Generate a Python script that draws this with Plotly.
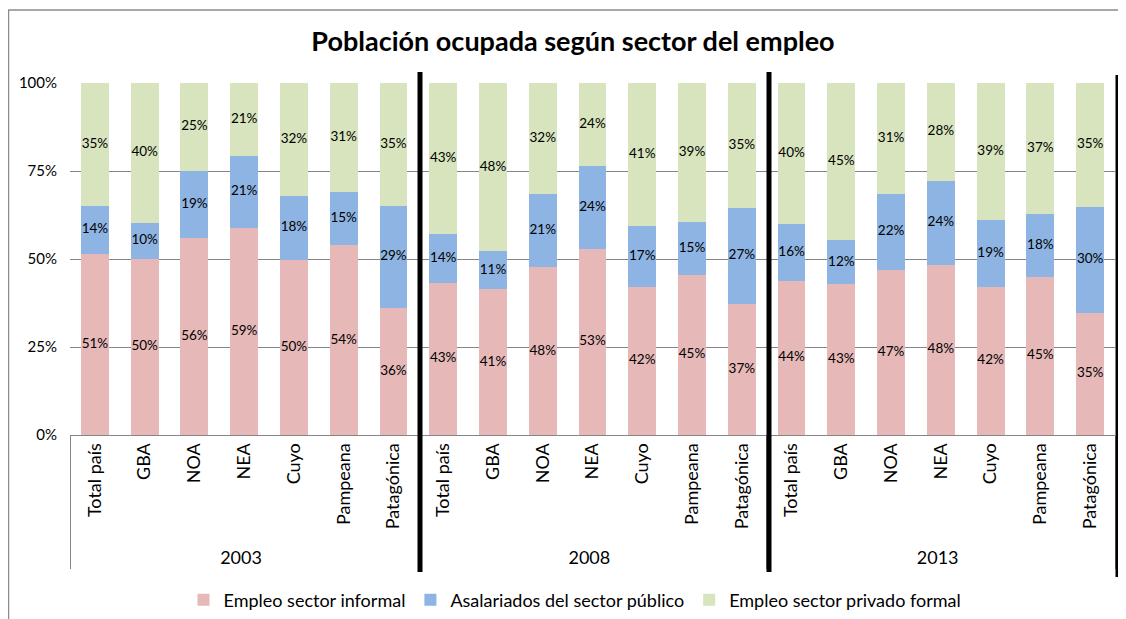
import plotly.graph_objects as go
import numpy as np

# datos (porcentajes)
years = ["2003", "2008", "2013"]
regions = ["Total país", "GBA", "NOA", "NEA", "Cuyo", "Pampeana", "Patagónica"]

informal = [51.4, 50.0, 56.0, 58.8, 49.8, 53.9, 36.0,
            43.2, 41.4, 47.6, 52.8, 42.0, 45.4, 37.2,
            43.8, 42.9, 46.8, 48.3, 42.0, 44.9, 34.7]
publico = [13.7, 10.3, 19.0, 20.6, 18.1, 15.0, 29.2,
           13.9, 10.8, 20.8, 23.6, 17.4, 15.2, 27.4,
           16.1, 12.4, 21.8, 23.9, 19.0, 17.9, 30.1]
privado = [34.9, 39.7, 25.0, 20.6, 32.1, 31.1, 34.8,
           42.9, 47.8, 31.6, 23.6, 40.6, 39.4, 35.4,
           40.1, 44.7, 31.4, 27.8, 39.0, 37.2, 35.2]

y_ticks = [0, 25, 50, 75, 100]
y_labels = ["0%", "25%", "50%", "75%", "100%"]

series_names = ["Empleo sector informal", "Asalariados del sector público", "Empleo sector privado formal"]
colors = ["#E6B9B8", "#8DB4E2", "#D7E4BD"]

FONT = "Lato"
x = [[y for y in years for _ in regions], [r for _ in years for r in regions]]

fig = go.Figure()
base = np.zeros(len(informal))
for name, vals, col in zip(series_names, [informal, publico, privado], colors):
    vals = np.array(vals)
    fig.add_trace(go.Bar(x=x, y=vals, name=name, marker=dict(color=col, line=dict(width=0))))
    # etiquetas centradas en cada segmento
    fig.add_trace(go.Scatter(x=x, y=base + vals / 2, mode="text",
                             text=[f"{v:.0f}%" for v in vals],
                             textfont=dict(family=FONT, size=13.5, color="#000000"),
                             showlegend=False, hoverinfo="skip"))
    base = base + vals

# la página tiene 8px de margen en el body: todo se mide en coordenadas de ventana
OFF = 8
W, H = 1126 - OFF, 619 - OFF
L, T = 70 - OFF, 83 - OFF
R = W - (1115 - OFF)
B = H - (435 - OFF)
pw, ph = W - L - R, H - T - B

def dx(px):
    return (px - OFF - L) / pw

def dy(py):
    return (H - B - (py - OFF)) / ph

shapes = [
    # borde del área del gráfico
    dict(type="rect", xref="x domain", yref="y domain", x0=dx(8.5), x1=dx(1140),
         y0=dy(640), y1=dy(10), line=dict(color="#8C8C8C", width=1.5), layer="below"),
]
for xp, y0, y1 in [(420, 572, 72), (769, 572, 72), (1118, 577, 75)]:
    shapes.append(dict(type="line", xref="x domain", yref="y domain",
                       x0=dx(xp), x1=dx(xp), y0=dy(y0), y1=dy(y1),
                       line=dict(color="#000000", width=5)))

fig.update_layout(
    width=W, height=H,
    barmode="stack", bargap=0.44,
    paper_bgcolor="white", plot_bgcolor="white",
    margin=dict(l=L, r=R, t=T, b=B, autoexpand=False),
    font=dict(family=FONT, size=14, color="#000000"),
    title=dict(text="<b>Población ocupada según sector del empleo</b>",
               x=(573 - OFF) / W, xanchor="center", y=1 - (42 - OFF) / H, yanchor="middle",
               font=dict(family=FONT, size=27, color="#000000"), automargin=False),
    legend=dict(orientation="h", xref="container", yref="container",
                x=(575 - OFF) / W, xanchor="center", y=1 - (600 - OFF) / H, yanchor="middle",
                font=dict(family=FONT, size=18), traceorder="normal",
                itemwidth=30),
    shapes=shapes,
    showlegend=True,
)
fig.update_xaxes(type="multicategory", range=[-0.5, 20.5], tickangle=-90, showline=True,
                 linecolor="#868686", ticks="", showgrid=False, showdividers=True,
                 dividercolor="#868686", dividerwidth=1,
                 tickfont=dict(family=FONT, size=18), automargin=False)
fig.update_yaxes(range=[0, 100], tickvals=y_ticks, ticktext=y_labels,
                 showgrid=True, gridcolor="#868686", gridwidth=1, zeroline=False,
                 showline=False, tickfont=dict(family=FONT, size=15), automargin=False,
                 ticklabelstandoff=12)

fig.write_html("out.html")
